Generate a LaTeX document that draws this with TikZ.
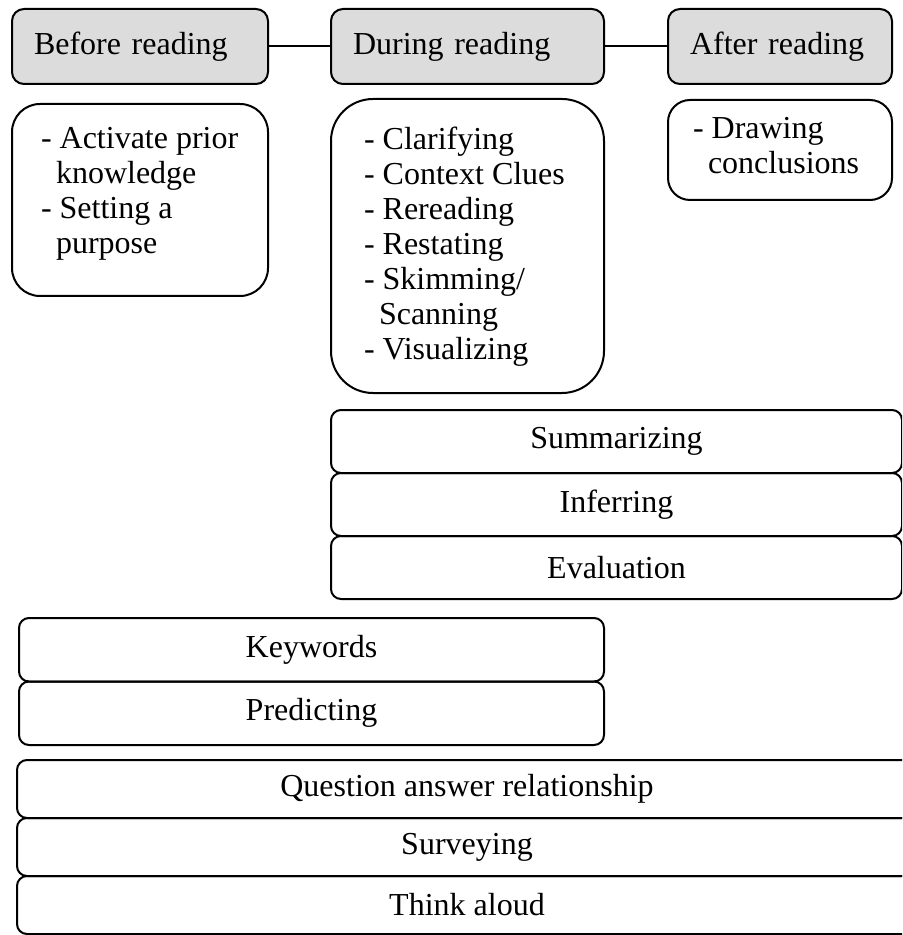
\documentclass[tikz,border=0pt]{standalone}
\usepackage{fontspec}
\setmainfont{Liberation Serif}
\definecolor{phasegray}{RGB}{220,220,220}
\tikzset{
  phasebox/.style={draw, line width=1pt, fill=phasegray, rounded corners=6pt, anchor=north west, minimum height=37.5pt, inner xsep=11pt, align=left},
  notebox/.style={draw, line width=1pt, anchor=north west},
  stratbox/.style={draw, line width=1pt, rounded corners=5pt, anchor=north west, inner sep=0pt},
}
\begin{document}
\begin{tikzpicture}[x=1pt,y=-1pt,font=\fontsize{16}{17.5}\selectfont]
\useasboundingbox (0,0) rectangle (451,467.5);
\clip (0,0) rectangle (451,467.5);
\node[phasebox, text width=106pt] (before) at (5.5,4) {Before reading};
\node[phasebox, text width=114.5pt] (during) at (165,4) {During reading};
\node[phasebox, text width=90pt] (after) at (333.5,4) {After reading};
\draw[line width=1pt] (before.east) -- (during.west);
\draw[line width=1pt] (during.east) -- (after.west);
\node[notebox, rounded corners=14pt, inner xsep=14.5pt, inner ysep=11.6pt] (beforenotes) at (5.5,51.5)
  {\parbox[t][72.8pt][t]{99pt}{\mbox{- Activate prior}\\\hspace*{7.5pt}knowledge\\- Setting a\\\hspace*{7.5pt}purpose}};
\node[notebox, rounded corners=21pt, inner xsep=16.5pt, inner ysep=14pt] (duringnotes) at (165,49)
  {\parbox[t][119pt][t]{103.5pt}{- Clarifying\\\mbox{- Context Clues}\\- Rereading\\- Restating\\- Skimming/\\\hspace*{7.5pt}Scanning\\- Visualizing}};
\node[notebox, rounded corners=11pt, inner xsep=12.5pt, inner ysep=8.6pt] (afternotes) at (333.5,49.5)
  {\parbox[t][32.8pt][t]{87pt}{- Drawing\\\hspace*{7.5pt}conclusions}};
\foreach \t [count=\i from 0] in {Summarizing,Inferring,Evaluation}
  \node[stratbox, minimum width=285.5pt, minimum height=31.5pt] (dstack\i) at (165,{204.5+31.5*\i}) {\t};
\foreach \t [count=\i from 0] in {Keywords,Predicting}
  \node[stratbox, minimum width=292.5pt, minimum height=31.75pt] (kstack\i) at (9,{308.5+31.75*\i}) {\t};
\foreach \t [count=\i from 0] in {Question answer relationship,Surveying,Think aloud}
  \node[stratbox, minimum width=450pt, minimum height=29pt] (qstack\i) at (8,{379.5+29*\i}) {\t};
\end{tikzpicture}
\end{document}
